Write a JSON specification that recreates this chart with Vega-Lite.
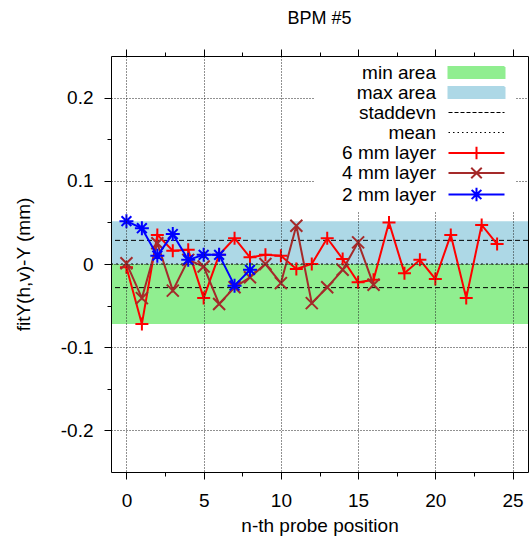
{
  "$schema": "https://vega.github.io/schema/vega-lite/v6.json",
  "width": 417,
  "height": 416,
  "autosize": {"type": "none"},
  "padding": {"left": 111, "top": 56, "right": 3, "bottom": 68},
  "background": "white",
  "title": {"text": "BPM #5", "fontSize": 18, "font": "Liberation Sans", "fontWeight": "normal", "color": "black", "anchor": "middle", "frame": "group", "offset": 3, "baseline": "bottom"},
  "config": {
    "font": "Liberation Sans",
    "view": {"stroke": null},
    "axis": {"labelFont": "Liberation Sans", "titleFont": "Liberation Sans", "labelFontSize": 19, "titleFontSize": 19, "titleFontWeight": "normal", "labelColor": "black", "titleColor": "black", "domainColor": "black", "tickColor": "black", "domainWidth": 1, "tickWidth": 1}
  },
  "resolve": {"axis": {"x": "independent", "y": "independent"}},
  "layer": [
    {
      "data": {"values": [
        {"series": "min area", "lo": -0.072, "hi": 0},
        {"series": "max area", "lo": 0, "hi": 0.0515}
      ]},
      "mark": {"type": "rect"},
      "encoding": {
        "x": {"datum": -1, "type": "quantitative",
          "scale": {"domain": [-1, 26], "nice": false, "zero": false},
          "axis": {"orient": "bottom", "title": "n-th probe position", "values": [0, 2.5, 5, 7.5, 10, 12.5, 15, 17.5, 20, 22.5, 25],
            "labelExpr": "datum.value % 5 === 0 ? datum.label : ''",
            "tickSize": {"condition": {"test": "datum.value % 5 === 0", "value": 7}, "value": 4},
            "grid": true, "gridColor": "#222", "gridDash": [1, 2], "gridWidth": 1,
            "gridOpacity": {"condition": {"test": "datum.value % 5 === 0", "value": 1}, "value": 0},
            "labelPadding": 12, "titlePadding": 6, "zindex": 1, "labelFlush": false, "labelOverlap": false}},
        "x2": {"datum": 26},
        "y": {"field": "lo", "type": "quantitative",
          "scale": {"domain": [-0.25, 0.25], "nice": false, "zero": false},
          "axis": {"orient": "left", "title": "fitY(h,v)-Y (mm)", "values": [-0.2, -0.15, -0.1, -0.05, 0, 0.05, 0.1, 0.15, 0.2],
            "labelExpr": "abs(round(datum.value * 20)) % 2 === 0 ? (datum.value < -0.001 ? '-' + format(-datum.value, '~g') : format(abs(datum.value), '~g')) : ''",
            "tickSize": {"condition": {"test": "abs(round(datum.value * 20)) % 2 === 0", "value": 7}, "value": 4},
            "grid": true, "gridColor": "#222", "gridDash": [1, 2], "gridWidth": 1,
            "gridOpacity": {"condition": {"test": "abs(round(datum.value * 20)) % 2 === 0", "value": 1}, "value": 0},
            "labelPadding": 11, "titlePadding": 27, "zindex": 1, "labelFlush": false, "labelOverlap": false}},
        "y2": {"field": "hi"},
        "color": {"field": "series", "type": "nominal",
          "scale": {"domain": ["min area", "max area", "staddevn", "mean", "6 mm layer", "4 mm layer", "2 mm layer"],
                    "range": ["#90ee90", "#add8e6", "black", "black", "red", "#a52a2a", "blue"]},
          "legend": {
            "title": null, "orient": "none", "legendX": 203, "legendY": 1, "zindex": 2,
            "fillColor": "white", "padding": 6, "strokeColor": null,
            "labelFont": "Liberation Sans", "labelFontSize": 19, "labelColor": "black",
            "labelAlign": "right", "labelOffset": -22, "symbolOffset": 119, "labelLimit": 300,
            "symbolSize": 196, "rowPadding": -0.5,
            "encode": {"symbols": {"update": {
              "shape": {"signal": "datum.value == 'min area' || datum.value == 'max area' ? 'M0,-0.78H8V0.78H0Z' : datum.value == '6 mm layer' ? 'M0,0H8M4,-0.9V0.9' : datum.value == '4 mm layer' ? 'M0,0H8M3.25,-0.75L4.75,0.75M3.25,0.75L4.75,-0.75' : datum.value == '2 mm layer' ? 'M0,0H8M4,-0.95V0.95M3.3,-0.65L4.7,0.65M3.3,0.65L4.7,-0.65' : 'M0,0H8'"},
              "fill": {"signal": "datum.value == 'min area' ? '#90ee90' : datum.value == 'max area' ? '#add8e6' : 'transparent'"},
              "stroke": {"signal": "datum.value == 'min area' || datum.value == 'max area' ? 'transparent' : datum.value == '6 mm layer' ? 'red' : datum.value == '4 mm layer' ? '#a52a2a' : datum.value == '2 mm layer' ? 'blue' : 'black'"},
              "strokeDash": {"signal": "datum.value == 'staddevn' ? [4, 2] : datum.value == 'mean' ? [1.5, 3] : [1, 0]"},
              "strokeWidth": {"signal": "datum.value == 'staddevn' || datum.value == 'mean' ? 1 : 2"},
              "opacity": {"value": 1},
              "fillOpacity": {"value": 1}
            }}}
          }}
      }
    },
    {
      "data": {"values": [
        {"series": "staddevn", "v": 0.0284},
        {"series": "staddevn", "v": -0.0284}
      ]},
      "mark": {"type": "rule", "strokeDash": [5, 3], "strokeWidth": 1},
      "encoding": {
        "y": {"field": "v", "type": "quantitative", "axis": null},
        "color": {"field": "series", "type": "nominal"}
      }
    },
    {
      "data": {"values": [
        {"series": "mean", "v": -5.82e-8}
      ]},
      "mark": {"type": "rule", "strokeDash": [2, 3], "strokeWidth": 1},
      "encoding": {
        "y": {"field": "v", "type": "quantitative", "axis": null},
        "color": {"field": "series", "type": "nominal"}
      }
    },
    {
      "data": {"values": [
        {"series": "6 mm layer", "n": 0, "d": -0.004},
        {"series": "6 mm layer", "n": 1, "d": -0.072},
        {"series": "6 mm layer", "n": 2, "d": 0.035},
        {"series": "6 mm layer", "n": 3, "d": 0.016},
        {"series": "6 mm layer", "n": 4, "d": 0.017},
        {"series": "6 mm layer", "n": 5, "d": -0.041},
        {"series": "6 mm layer", "n": 6, "d": 0.011},
        {"series": "6 mm layer", "n": 7, "d": 0.031},
        {"series": "6 mm layer", "n": 8, "d": 0.008},
        {"series": "6 mm layer", "n": 9, "d": 0.011},
        {"series": "6 mm layer", "n": 10, "d": 0.010},
        {"series": "6 mm layer", "n": 11, "d": -0.006},
        {"series": "6 mm layer", "n": 12, "d": 0.000},
        {"series": "6 mm layer", "n": 13, "d": 0.031},
        {"series": "6 mm layer", "n": 14, "d": 0.006},
        {"series": "6 mm layer", "n": 15, "d": -0.022},
        {"series": "6 mm layer", "n": 16, "d": -0.019},
        {"series": "6 mm layer", "n": 17, "d": 0.050},
        {"series": "6 mm layer", "n": 18, "d": -0.011},
        {"series": "6 mm layer", "n": 19, "d": 0.005},
        {"series": "6 mm layer", "n": 20, "d": -0.018},
        {"series": "6 mm layer", "n": 21, "d": 0.035},
        {"series": "6 mm layer", "n": 22, "d": -0.041},
        {"series": "6 mm layer", "n": 23, "d": 0.047},
        {"series": "6 mm layer", "n": 24, "d": 0.024}
      ]},
      "mark": {"type": "line", "strokeWidth": 2, "point": {"shape": "M-1,0H1M0,-1V1", "filled": false, "size": 169, "strokeWidth": 2}},
      "encoding": {
        "x": {"field": "n", "type": "quantitative",
          "axis": {"orient": "top", "title": null, "labels": false, "grid": false, "values": [0, 2.5, 5, 7.5, 10, 12.5, 15, 17.5, 20, 22.5, 25],
            "tickSize": {"condition": {"test": "datum.value % 5 === 0", "value": 7}, "value": 4}, "zindex": 1}},
        "y": {"field": "d", "type": "quantitative",
          "axis": {"orient": "right", "title": null, "labels": false, "grid": false, "ticks": false, "zindex": 1}},
        "color": {"field": "series", "type": "nominal"}
      }
    },
    {
      "data": {"values": [
        {"series": "4 mm layer", "n": 0, "d": 0.001},
        {"series": "4 mm layer", "n": 1, "d": -0.041},
        {"series": "4 mm layer", "n": 2, "d": 0.025},
        {"series": "4 mm layer", "n": 3, "d": -0.032},
        {"series": "4 mm layer", "n": 4, "d": 0.005},
        {"series": "4 mm layer", "n": 5, "d": -0.003},
        {"series": "4 mm layer", "n": 6, "d": -0.048},
        {"series": "4 mm layer", "n": 7, "d": -0.028},
        {"series": "4 mm layer", "n": 8, "d": -0.016},
        {"series": "4 mm layer", "n": 9, "d": 0.000},
        {"series": "4 mm layer", "n": 10, "d": -0.023},
        {"series": "4 mm layer", "n": 11, "d": 0.046},
        {"series": "4 mm layer", "n": 12, "d": -0.047},
        {"series": "4 mm layer", "n": 13, "d": -0.028},
        {"series": "4 mm layer", "n": 14, "d": -0.007},
        {"series": "4 mm layer", "n": 15, "d": 0.026},
        {"series": "4 mm layer", "n": 16, "d": -0.025}
      ]},
      "mark": {"type": "line", "strokeWidth": 2, "point": {"shape": "M-1,-1L1,1M-1,1L1,-1", "filled": false, "size": 144, "strokeWidth": 2}},
      "encoding": {
        "x": {"field": "n", "type": "quantitative", "axis": null},
        "y": {"field": "d", "type": "quantitative", "axis": null},
        "color": {"field": "series", "type": "nominal"}
      }
    },
    {
      "data": {"values": [
        {"series": "2 mm layer", "n": 0, "d": 0.0515},
        {"series": "2 mm layer", "n": 1, "d": 0.043},
        {"series": "2 mm layer", "n": 2, "d": 0.010},
        {"series": "2 mm layer", "n": 3, "d": 0.036},
        {"series": "2 mm layer", "n": 4, "d": 0.005},
        {"series": "2 mm layer", "n": 5, "d": 0.011},
        {"series": "2 mm layer", "n": 6, "d": 0.011},
        {"series": "2 mm layer", "n": 7, "d": -0.026},
        {"series": "2 mm layer", "n": 8, "d": -0.007}
      ]},
      "mark": {"type": "line", "strokeWidth": 2, "point": {"shape": "M-1,0H1M0,-1V1M-0.7,-0.7L0.7,0.7M-0.7,0.7L0.7,-0.7", "filled": false, "size": 196, "strokeWidth": 2}},
      "encoding": {
        "x": {"field": "n", "type": "quantitative", "axis": null},
        "y": {"field": "d", "type": "quantitative", "axis": null},
        "color": {"field": "series", "type": "nominal"}
      }
    },
    {
      "mark": {"type": "text", "align": "left", "baseline": "middle", "fontSize": 19, "font": "Liberation Sans", "color": "black"},
      "encoding": {
        "x": {"datum": 1, "type": "quantitative", "axis": null},
        "y": {"datum": -0.178, "type": "quantitative", "axis": null},
        "text": {"value": "Minimum = -0.072, Maximum = 0.0515"}
      }
    },
    {
      "mark": {"type": "text", "align": "left", "baseline": "middle", "fontSize": 19, "font": "Liberation Sans", "color": "black"},
      "encoding": {
        "x": {"datum": 1, "type": "quantitative", "axis": null},
        "y": {"datum": -0.22, "type": "quantitative", "axis": null},
        "text": {"value": "Mean\u00a0\u00a0\u00a0\u00a0= -5.82e-08, Sigma\u00a0\u00a0\u00a0= 0.0284"}
      }
    }
  ]
}
